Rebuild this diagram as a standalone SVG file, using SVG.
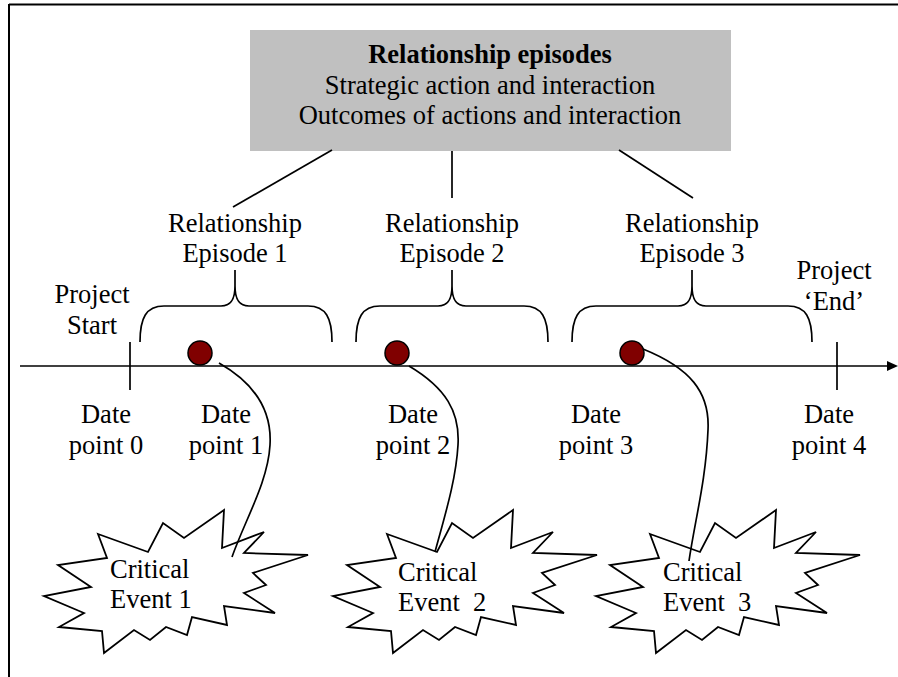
<svg xmlns="http://www.w3.org/2000/svg" xmlns:xlink="http://www.w3.org/1999/xlink" width="898" height="677" viewBox="0 0 898 677" font-family="'Liberation Serif', serif">
  <style>
    text { font-family: 'Liberation Serif', serif; font-size: 26.5px; fill: #000; }
    .mid { text-anchor: middle; }
    .pre { white-space: pre; }
    .bold { font-weight: bold; }
    .ln { fill: none; stroke: #000; stroke-width: 1.7; }
    .frame { fill: none; stroke: #000; stroke-width: 2; }
    .dot { fill: #800000; stroke: #000; stroke-width: 1.5; }
    .burst { fill: #fff; stroke: #000; stroke-width: 1.8; stroke-linejoin: miter; }
  </style>
  <defs>
    <marker id="arrow" viewBox="0 0 11 10" refX="0" refY="5" markerWidth="11" markerHeight="10" markerUnits="userSpaceOnUse" orient="auto">
      <path d="M0,0 L11,5 L0,10 z" fill="#000"/>
    </marker>
    <polygon id="burst-shape" class="burst" points="98,534 148,552 163,523 184,538 224,510 222,548 264,532 244,553 308,555 253,573 266,585 244,593 275,613 224,606 227,625 192,617 187,635 166,627 150,640 134,630 104,653 102,631 59,627 84,613 44,596 91,587 58,565 107,558"/>
  </defs>

  <rect width="898" height="677" fill="#fff"/>

  <!-- page frame (top and left edges) -->
  <path class="frame" d="M9,4.5 L898,4.5 M9,4 L9,677"/>

  <!-- summary box -->
  <g id="episodes-box">
    <rect x="250" y="30" width="481" height="121" fill="#c0c0c0"/>
    <text class="mid bold" x="490" y="63">Relationship episodes</text>
    <text class="mid" x="490" y="94">Strategic action and interaction</text>
    <text class="mid" x="490" y="124">Outcomes of actions and interaction</text>
  </g>

  <!-- episode labels with their braces -->
  <g id="episode-1">
    <text class="mid" x="235" y="232">Relationship</text>
    <text class="mid" x="235" y="262">Episode 1</text>
    <path class="ln" d="M140,342 C140,318 146,306 164,306 L221,306 C232,306 235,298 235,286 L235,270 L235,286 C235,298 238,306 249,306 L308,306 C326,306 332,318 332,342"/>
  </g>
  <g id="episode-2">
    <text class="mid" x="452" y="232">Relationship</text>
    <text class="mid" x="452" y="262">Episode 2</text>
    <path class="ln" d="M356,342 C356,318 362,306 380,306 L438,306 C449,306 452,298 452,286 L452,270 L452,286 C452,298 455,306 466,306 L524,306 C542,306 548,318 548,342"/>
  </g>
  <g id="episode-3">
    <text class="mid" x="692" y="232">Relationship</text>
    <text class="mid" x="692" y="262">Episode 3</text>
    <path class="ln" d="M572,342 C572,318 578,306 596,306 L678,306 C689,306 692,298 692,286 L692,270 L692,286 C692,298 695,306 706,306 L788,306 C806,306 812,318 812,342"/>
  </g>

  <!-- project boundaries -->
  <g id="project-start">
    <text class="mid" x="92" y="303">Project</text>
    <text class="mid" x="92" y="334">Start</text>
  </g>
  <g id="project-end">
    <text class="mid" x="834" y="279">Project</text>
    <text class="mid" x="834" y="310">‘End’</text>
  </g>

  <!-- time axis -->
  <g id="timeline">
    <line class="ln" x1="20" y1="366" x2="887" y2="366" marker-end="url(#arrow)"/>
    <line class="ln" x1="130" y1="342" x2="130" y2="390"/>
    <line class="ln" x1="837" y1="342" x2="837" y2="390"/>
  </g>

  <!-- date points -->
  <g id="date-0">
    <text class="mid" x="106" y="423">Date</text>
    <text class="mid" x="106" y="454">point 0</text>
  </g>
  <g id="date-1">
    <text class="mid" x="226" y="423">Date</text>
    <text class="mid" x="226" y="454">point 1</text>
  </g>
  <g id="date-2">
    <text class="mid" x="413" y="423">Date</text>
    <text class="mid" x="413" y="454">point 2</text>
  </g>
  <g id="date-3">
    <text class="mid" x="596" y="423">Date</text>
    <text class="mid" x="596" y="454">point 3</text>
  </g>
  <g id="date-4">
    <text class="mid" x="829" y="423">Date</text>
    <text class="mid" x="829" y="454">point 4</text>
  </g>

  <!-- event markers on the axis -->
  <g id="marker-1"><circle class="dot" cx="200" cy="353" r="12"/></g>
  <g id="marker-2"><circle class="dot" cx="397" cy="353" r="12"/></g>
  <g id="marker-3"><circle class="dot" cx="632" cy="353" r="12"/></g>

  <!-- critical events -->
  <g id="event-1">
    <use xlink:href="#burst-shape"/>
    <text x="110" y="578">Critical</text>
    <text class="pre" x="110" y="608">Event 1</text>
  </g>
  <g id="event-2">
    <use xlink:href="#burst-shape" x="289"/>
    <text x="398" y="581">Critical</text>
    <text class="pre" x="398" y="611">Event  2</text>
  </g>
  <g id="event-3">
    <use xlink:href="#burst-shape" x="552"/>
    <text x="663" y="581">Critical</text>
    <text class="pre" x="663" y="611">Event  3</text>
  </g>

  <!-- connectors -->
  <g id="connectors">
    <line class="ln" x1="332" y1="150" x2="233" y2="207"/>
    <line class="ln" x1="452" y1="151" x2="452" y2="198"/>
    <line class="ln" x1="619" y1="150" x2="693" y2="198"/>
    <path class="ln" d="M219,363 C256,384 272,412 270,445 C268,482 245,520 232,557"/>
    <path class="ln" d="M409,366 C446,388 460,412 458,445 C456,480 445,515 435,552"/>
    <path class="ln" d="M643,349 C690,368 710,392 708,430 C706,480 695,520 689,561"/>
  </g>
</svg>
